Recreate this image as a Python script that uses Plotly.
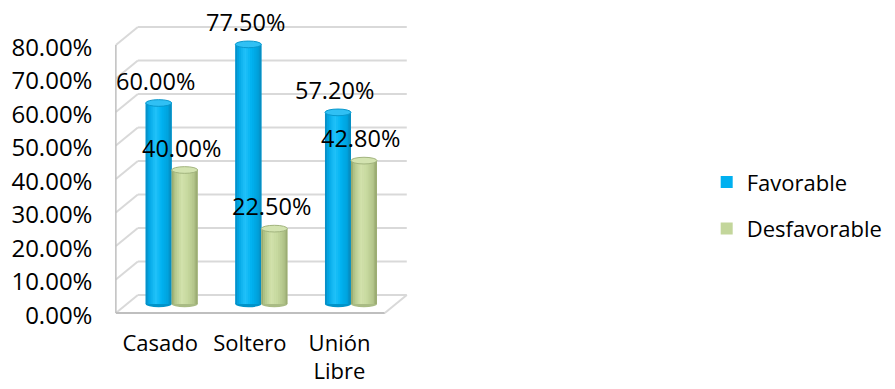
import plotly.graph_objects as go

# ---- data -------------------------------------------------------------
categories = ["Casado", "Soltero", "Unión Libre"]
favorable = [60.0, 77.5, 57.2]
desfavorable = [40.0, 22.5, 42.8]
y_ticks = [0, 10, 20, 30, 40, 50, 60, 70, 80]

# ---- geometry (x in category units, y in percent) ---------------------
X_RANGE = [-0.75, 2.75]
Y_RANGE = [-8, 90]
X_DOMAIN = [0.11672, 0.46727]
Y_DOMAIN = [0.14961, 0.99357]
CAT_AXIS_POS = 0.1580 # paper height of the category label row
BAR_W = 0.29          # width of one cylinder
DEPTH_X = 0.1227      # half depth of the 3-D box (horizontal)
DEPTH_Y = 2.69        # half depth of the 3-D box (vertical)
LABEL_DROP = 3.4      # front-face offset of the value-axis labels
CAT_SHIFT = 0.128     # front-face offset of the category labels
CAP_RY = 1.0          # vertical radius of the cylinder caps
N_STRIPS = 14

FONT = "Open Sans"
GRID = "#D9D9D9"
EDGE = "#BFBFBF"

BLUE_STOPS = [(0.0, "#0A86BC"), (0.12, "#00A6E4"), (0.38, "#22C2FA"),
              (0.62, "#00B2F0"), (0.88, "#00A0DA"), (1.0, "#0A86B8")]
GREEN_STOPS = [(0.0, "#8FA166"), (0.12, "#B2C58A"), (0.38, "#D2E2AC"),
               (0.62, "#C6D89E"), (0.88, "#B0C288"), (1.0, "#93A46C")]


def hex_rgb(h):
    h = h.lstrip("#")
    return [int(h[i:i + 2], 16) for i in (0, 2, 4)]


def blend(stops, t):
    for (t0, c0), (t1, c1) in zip(stops, stops[1:]):
        if t0 <= t <= t1:
            u = (t - t0) / (t1 - t0)
            a, b = hex_rgb(c0), hex_rgb(c1)
            r, g, bl = (round(a[i] + (b[i] - a[i]) * u) for i in range(3))
            return f"rgb({r},{g},{bl})"
    return stops[-1][1]


series = [
    dict(name="Favorable", values=favorable, offset=-BAR_W, color="#00B0F0",
         stops=BLUE_STOPS, cap="#30C0F4", rim="#0897CC", foot="#0093C9"),
    dict(name="Desfavorable", values=desfavorable, offset=0.0, color="#C3D69B",
         stops=GREEN_STOPS, cap="#D3E3B0", rim="#A2B47E", foot="#A9BB84"),
]

xs = list(range(len(categories)))
fig = go.Figure()
shapes = []
annotations = []

# ---- 3-D box: back wall grid, side wall and floor --------------------
left, right = -0.5, len(categories) - 0.5
for v in y_ticks:
    shapes.append(dict(type="line", xref="x", yref="y", layer="below",
                       x0=left + DEPTH_X, x1=right + DEPTH_X,
                       y0=v + DEPTH_Y, y1=v + DEPTH_Y,
                       line=dict(color=GRID, width=2)))
    shapes.append(dict(type="line", xref="x", yref="y", layer="below",
                       x0=left - DEPTH_X, x1=left + DEPTH_X,
                       y0=v - DEPTH_Y, y1=v + DEPTH_Y,
                       line=dict(color=GRID, width=2)))
shapes.append(dict(type="line", xref="x", yref="y", layer="below",
                   x0=left - DEPTH_X, x1=left - DEPTH_X,
                   y0=-DEPTH_Y, y1=y_ticks[-1] - DEPTH_Y,
                   line=dict(color=EDGE, width=1.5)))
shapes.append(dict(type="line", xref="x", yref="y", layer="below",
                   x0=left - DEPTH_X, x1=right - DEPTH_X,
                   y0=-DEPTH_Y, y1=-DEPTH_Y,
                   line=dict(color=EDGE, width=2)))
shapes.append(dict(type="line", xref="x", yref="y", layer="below",
                   x0=right - DEPTH_X, x1=right + DEPTH_X,
                   y0=-DEPTH_Y, y1=DEPTH_Y,
                   line=dict(color=GRID, width=2)))

# ---- cylinders --------------------------------------------------------
sw = BAR_W / N_STRIPS
for s in series:
    fig.add_trace(go.Bar(
        x=xs, y=s["values"], base=0, width=BAR_W, offset=s["offset"],
        marker=dict(color=s["color"], line=dict(width=0)),
        name=s["name"], legendgroup=s["name"], hoverinfo="skip"))
    for k in range(N_STRIPS):
        t = (k + 0.5) / N_STRIPS
        w = sw * (1.2 if k < N_STRIPS - 1 else 1.0)
        fig.add_trace(go.Bar(
            x=xs, y=s["values"], base=0, width=w, offset=s["offset"] + k * sw,
            marker=dict(color=blend(s["stops"], t), line=dict(width=0)),
            showlegend=False, legendgroup=s["name"], hoverinfo="skip"))
    for i, v in zip(xs, s["values"]):
        x0 = i + s["offset"]
        x1 = x0 + BAR_W
        shapes.append(dict(type="circle", xref="x", yref="y", layer="below",
                           x0=x0, x1=x1, y0=-CAP_RY, y1=CAP_RY,
                           fillcolor=s["foot"], line=dict(width=0)))
        shapes.append(dict(type="circle", xref="x", yref="y", layer="above",
                           x0=x0, x1=x1, y0=v - CAP_RY, y1=v + CAP_RY,
                           fillcolor=s["cap"], line=dict(color=s["rim"], width=1)))
        annotations.append(dict(
            x=(x0 + x1) / 2, y=v, xref="x", yref="y", text=f"{v:.2f}%",
            showarrow=False, xanchor="center", yanchor="middle",
            xshift=-3, yshift=22.5,
            font=dict(family=FONT, size=23.5, color="#000000")))

fig.update_layout(
    width=895, height=389, autosize=False,
    margin=dict(l=0, r=0, t=0, b=0, autoexpand=False),
    paper_bgcolor="white", plot_bgcolor="white",
    barmode="overlay",
    font=dict(family=FONT, color="#000000"),
    shapes=shapes, annotations=annotations,
    showlegend=True,
    legend=dict(x=0.7896, y=0.5856, xanchor="left", yanchor="top",
                font=dict(family=FONT, size=22, color="#000000"),
                tracegroupgap=15, bgcolor="rgba(0,0,0,0)"),
    xaxis=dict(range=X_RANGE, domain=X_DOMAIN, showgrid=False, zeroline=False,
               showline=False, ticks="", automargin=False,
               anchor="free", position=CAT_AXIS_POS,
               tickvals=[i - CAT_SHIFT for i in xs],
               ticktext=[c.replace(" ", "<br>") if c == "Unión Libre" else c
                         for c in categories],
               tickfont=dict(family=FONT, size=22), ticklabelstandoff=0),
    yaxis=dict(range=Y_RANGE, domain=Y_DOMAIN, showgrid=False, zeroline=False,
               showline=False, ticks="", automargin=False,
               tickvals=[v - LABEL_DROP for v in y_ticks],
               ticktext=[f"{v:.2f}%" for v in y_ticks],
               tickfont=dict(family=FONT, size=24), ticklabelstandoff=11),
)

fig.write_html("out.html")
